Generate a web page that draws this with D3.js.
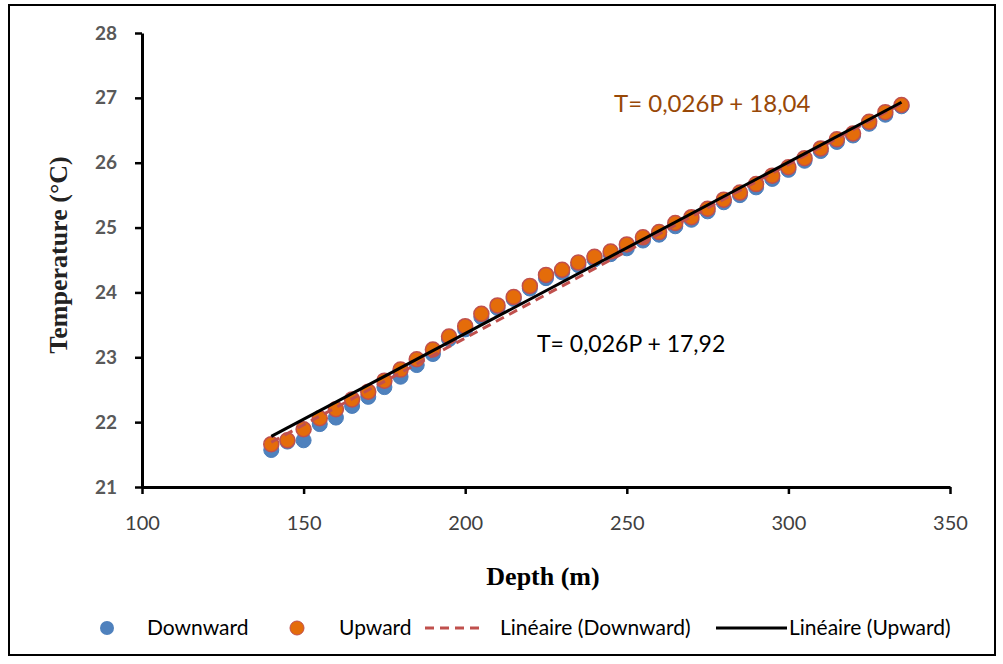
<!DOCTYPE html>
<html>
<head>
<meta charset="utf-8">
<script src="https://cdn.jsdelivr.net/npm/d3@7"></script>
<style>
  body { margin: 0; background: #fff; }
  svg { display: block; }
</style>
</head>
<body>
<div id="container"></div>
<script>
// Depths (m) and temperatures (°C).
const depth = [140, 145, 150, 155, 160, 165, 170, 175, 180, 185, 190, 195, 200, 205, 210, 215, 220, 225, 230, 235,
  240, 245, 250, 255, 260, 265, 270, 275, 280, 285, 290, 295, 300, 305, 310, 315, 320, 325, 330, 335];
const downward = [21.57, 21.70, 21.72, 21.97, 22.07, 22.25, 22.39, 22.54, 22.70, 22.88, 23.05, 23.28, 23.43, 23.62, 23.76, 23.90, 24.06, 24.22, 24.31, 24.42,
  24.51, 24.59, 24.68, 24.80, 24.89, 25.02, 25.12, 25.25, 25.39, 25.50, 25.62, 25.75, 25.89, 26.03, 26.18, 26.32, 26.42, 26.60, 26.74, 26.87];
const upward = [21.66, 21.72, 21.89, 22.06, 22.20, 22.35, 22.47, 22.64, 22.81, 22.97, 23.12, 23.32, 23.48, 23.67, 23.80, 23.93, 24.10, 24.27, 24.35, 24.46,
  24.55, 24.63, 24.74, 24.85, 24.93, 25.07, 25.16, 25.29, 25.43, 25.54, 25.67, 25.80, 25.93, 26.07, 26.22, 26.36, 26.45, 26.63, 26.78, 26.89];
const xTicks = [100, 150, 200, 250, 300, 350];
const yTicks = [21, 22, 23, 24, 25, 26, 27, 28];
const equations = ['T= 0,026P + 18,04', 'T= 0,026P + 17,92'];
const legendLabels = ['Downward', 'Upward', 'Linéaire (Downward)', 'Linéaire (Upward)'];

const W = 1003, H = 664;
const svg = d3.select('#container').append('svg')
  .attr('width', W).attr('height', H);

// outer frame
svg.append('rect')
  .attr('x', 9).attr('y', 5).attr('width', 986).attr('height', 650)
  .attr('fill', 'none').attr('stroke', '#000').attr('stroke-width', 2);

// scales
const x = d3.scaleLinear().domain([100, 350]).range([142, 950]);
const y = d3.scaleLinear().domain([21, 28]).range([487, 33]);

// linear fit
function fit(xs, ys) {
  const mx = d3.mean(xs), my = d3.mean(ys);
  let num = 0, den = 0;
  xs.forEach((v, i) => { num += (v - mx) * (ys[i] - my); den += (v - mx) * (v - mx); });
  const a = num / den;
  return { a, b: my - a * mx };
}

// axes
const xAxis = svg.append('g')
  .attr('transform', `translate(0,${y(21)})`)
  .call(d3.axisBottom(x).tickValues(xTicks).tickFormat(d3.format('d'))
    .tickSize(7).tickPadding(22).tickSizeOuter(0));
const yAxis = svg.append('g')
  .attr('transform', `translate(${x(100)},0)`)
  .call(d3.axisLeft(y).tickValues(yTicks).tickFormat(d3.format('d'))
    .tickSize(7).tickPadding(18).tickSizeOuter(0));

[xAxis, yAxis].forEach(g => {
  g.select('.domain').attr('stroke', '#000').attr('stroke-width', 3);
  g.selectAll('.tick line').attr('stroke', '#000').attr('stroke-width', 2.5);
});
xAxis.selectAll('.tick text')
  .attr('fill', '#404040').attr('font-family', 'Lato, sans-serif').attr('font-size', 20);
yAxis.selectAll('.tick text')
  .attr('fill', '#595959').attr('font-family', 'Lato, sans-serif').attr('font-size', 19)
  .attr('font-weight', 'bold');

// axis titles
svg.append('text')
  .attr('x', 543).attr('y', 585)
  .attr('text-anchor', 'middle')
  .attr('font-family', '"Liberation Serif", serif').attr('font-weight', 'bold').attr('font-size', 26)
  .text('Depth (m)');
svg.append('text')
  .attr('transform', 'translate(67,255) rotate(-90)')
  .attr('text-anchor', 'middle')
  .attr('font-family', '"Liberation Serif", serif').attr('font-weight', 'bold').attr('font-size', 26)
  .attr('fill', '#222')
  .text('Temperature (°C)');

// points
const r = 7.5;
svg.append('g').selectAll('circle')
  .data(depth.map((d, i) => [d, downward[i]]))
  .join('circle')
  .attr('cx', d => x(d[0])).attr('cy', d => y(d[1])).attr('r', r)
  .attr('fill', '#4F81BD').attr('stroke', '#4A7EBB').attr('stroke-width', 1);
svg.append('g').selectAll('circle')
  .data(depth.map((d, i) => [d, upward[i]]))
  .join('circle')
  .attr('cx', d => x(d[0])).attr('cy', d => y(d[1])).attr('r', r)
  .attr('fill', '#E46C0A').attr('stroke', '#C0504D').attr('stroke-width', 1.5);

// trendlines
const x0 = d3.min(depth), x1 = d3.max(depth);
const fDown = fit(depth, downward), fUp = fit(depth, upward);
svg.append('line')
  .attr('x1', x(x0)).attr('y1', y(fDown.a * x0 + fDown.b))
  .attr('x2', x(x1)).attr('y2', y(fDown.a * x1 + fDown.b))
  .attr('stroke', '#C0504D').attr('stroke-width', 3).attr('stroke-dasharray', '9,6');
svg.append('line')
  .attr('x1', x(x0)).attr('y1', y(fUp.a * x0 + fUp.b))
  .attr('x2', x(x1)).attr('y2', y(fUp.a * x1 + fUp.b))
  .attr('stroke', '#000').attr('stroke-width', 3);

// equation labels
svg.append('text')
  .attr('x', 614).attr('y', 112)
  .attr('font-family', 'Lato, sans-serif').attr('font-size', 24).attr('fill', '#984807')
  .text(equations[0]);
svg.append('text')
  .attr('x', 537).attr('y', 352)
  .attr('font-family', 'Lato, sans-serif').attr('font-size', 23).attr('fill', '#000')
  .text(equations[1]);

// legend
const lg = svg.append('g').attr('font-family', 'Lato, sans-serif').attr('font-size', 21).attr('fill', '#000');
const ly = 628;
lg.append('circle').attr('cx', 107).attr('cy', ly).attr('r', 7).attr('fill', '#4F81BD');
lg.append('text').attr('x', 147).attr('y', ly + 7).text(legendLabels[0]);
lg.append('circle').attr('cx', 297).attr('cy', ly).attr('r', 7).attr('fill', '#E46C0A').attr('stroke', '#C0504D');
lg.append('text').attr('x', 339).attr('y', ly + 7).text(legendLabels[1]);
lg.append('line').attr('x1', 425).attr('x2', 485).attr('y1', ly).attr('y2', ly)
  .attr('stroke', '#C0504D').attr('stroke-width', 3).attr('stroke-dasharray', '9,6');
lg.append('text').attr('x', 500).attr('y', ly + 7).text(legendLabels[2]);
lg.append('line').attr('x1', 716).attr('x2', 787).attr('y1', ly).attr('y2', ly)
  .attr('stroke', '#000').attr('stroke-width', 3);
lg.append('text').attr('x', 789).attr('y', ly + 7).text(legendLabels[3]);
</script>
</body>
</html>
